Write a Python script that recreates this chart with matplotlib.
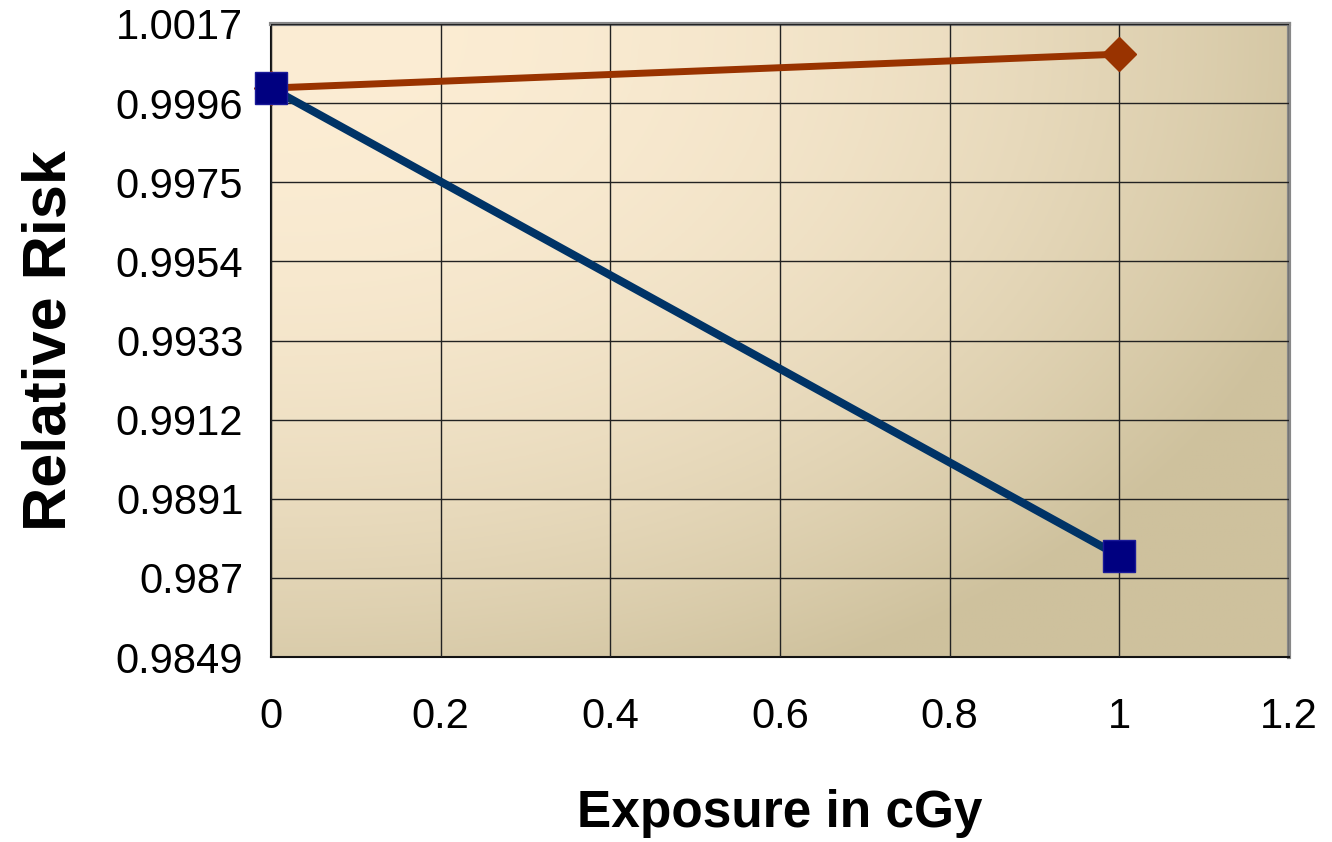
import numpy as np
import matplotlib
matplotlib.use("Agg")
import matplotlib.pyplot as plt

plt.rcParams['font.family'] = ['Liberation Sans', 'DejaVu Sans']

# data
exposure = [0, 1]
risk_upper = [1.0000, 1.0009]   # brown diamonds
risk_lower = [1.0000, 0.98758]  # navy squares

y_ticks = [0.9849, 0.9870, 0.9891, 0.9912, 0.9933, 0.9954, 0.9975, 0.9996, 1.0017]
y_labels = ['0.9849', '0.987', '0.9891', '0.9912', '0.9933', '0.9954', '0.9975', '0.9996', '1.0017']
x_ticks = [0, 0.2, 0.4, 0.6, 0.8, 1, 1.2]
x_labels = ['0', '0.2', '0.4', '0.6', '0.8', '1', '1.2']

fig = plt.figure(figsize=(13.32, 8.42), dpi=100)
ax = fig.add_axes([0.2035, 0.2197, 0.7642, 0.7518])

# cream-to-tan gradient background
xx, yy = np.meshgrid(np.linspace(0, 1, 300), np.linspace(0, 1, 300))
t = np.clip(0.85 * xx ** 2.2 + 0.75 * yy ** 2.2, 0, 1)
c0 = np.array([252, 237, 212]) / 255
c1 = np.array([206, 193, 157]) / 255
img = c0[None, None, :] * (1 - t[..., None]) + c1[None, None, :] * t[..., None]
ax.imshow(img, extent=[0, 1.2, y_ticks[0], y_ticks[-1]], origin='upper',
          aspect='auto', zorder=0)

ax.set_xlim(0, 1.2)
ax.set_ylim(y_ticks[0], y_ticks[-1])
ax.set_xticks(x_ticks)
ax.set_xticklabels(x_labels)
ax.set_yticks(y_ticks)
ax.set_yticklabels(y_labels)
ax.grid(True, color='#222222', linewidth=1.0, zorder=1)
ax.set_axisbelow(False)

ax.plot(exposure, risk_upper, color='#993300', linewidth=5, marker='D',
        markersize=17, markeredgecolor='#993300', zorder=3, clip_on=False)
ax.plot(exposure, risk_lower, color='#003366', linewidth=5.8, marker='s',
        markersize=23, markerfacecolor='#000080', markeredgecolor='#1a1a99',
        markeredgewidth=1, zorder=4, clip_on=False)

for s in ['left', 'bottom']:
    ax.spines[s].set_color('#111111')
    ax.spines[s].set_linewidth(1.5)
for s in ['top', 'right']:
    ax.spines[s].set_color('#888888')
    ax.spines[s].set_linewidth(3)

ax.tick_params(axis='both', length=0, labelsize=30)
ax.tick_params(axis='y', pad=20)
ax.tick_params(axis='x', pad=29)

ax.set_ylabel('Relative Risk', fontsize=44, fontweight='bold', labelpad=27)
ax.set_xlabel('Exposure in cGy', fontsize=37, fontweight='bold', labelpad=37)

fig.savefig('out.png', dpi=100)
